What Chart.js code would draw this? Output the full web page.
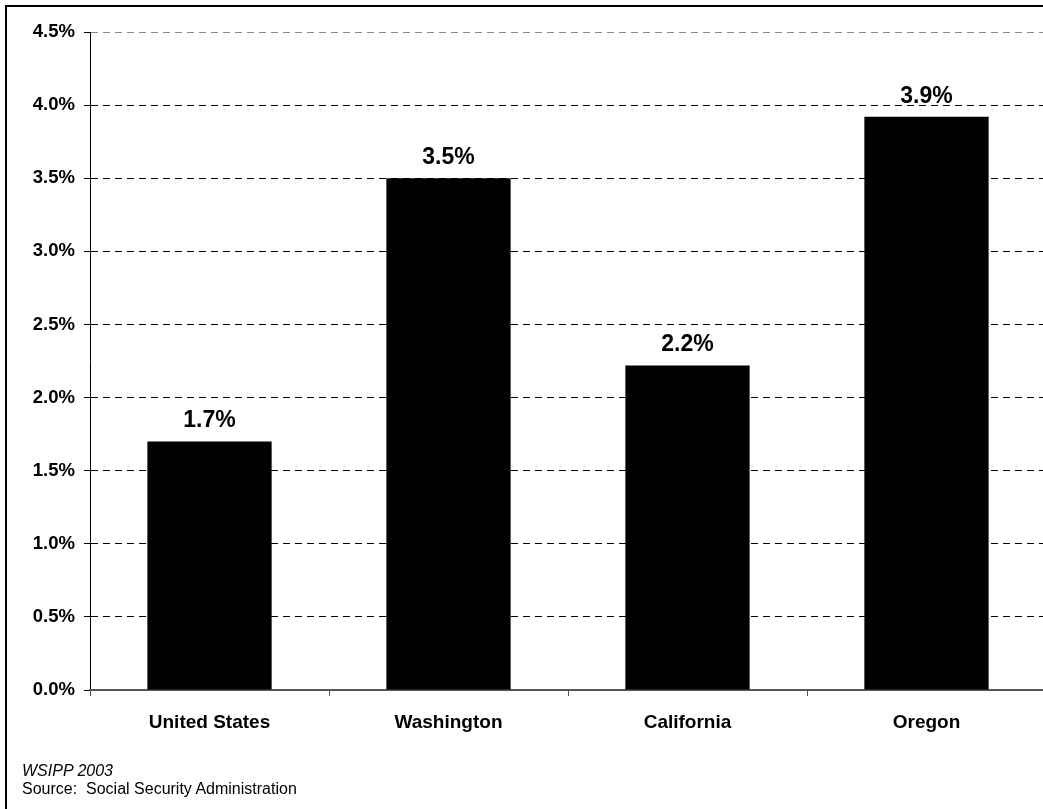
<!DOCTYPE html>
<html>
<head>
<meta charset="utf-8">
<script src="https://cdn.jsdelivr.net/npm/chart.js@4"></script>
<style>
  html, body { margin: 0; padding: 0; background: #fff; overflow: hidden; }
  #wrap { position: relative; width: 1043px; height: 809px; overflow: hidden; }
  #frame { position: absolute; left: 5px; top: 5px; width: 1050px; height: 820px;
           border-left: 2px solid #000; border-top: 2px solid #000; }
  #c { position: absolute; left: 0; top: 0; }
  .note { position: absolute; left: 22px; font-family: "Liberation Sans", Arial, sans-serif;
          font-size: 16px; color: #000; white-space: pre; }
</style>
</head>
<body>
<div id="wrap">
  <div id="frame"></div>
  <canvas id="c" width="1050" height="809" style="width:1050px;height:809px"></canvas>
  <div class="note" style="top:762px;font-style:italic">WSIPP 2003</div>
  <div class="note" style="top:780px">Source:  Social Security Administration</div>
</div>
<script>
const states = ["United States", "Washington", "California", "Oregon"];
const growth = [1.7, 3.5, 2.22, 3.92];
const yMax = 4.5;
const yStep = 0.5;

const fontFam = '"Liberation Sans", Arial, sans-serif';

const valueLabels = {
  id: "valueLabels",
  afterDatasetsDraw(chart) {
    const ctx = chart.ctx;
    const meta = chart.getDatasetMeta(0);
    ctx.save();
    ctx.font = "bold 23px " + fontFam;
    ctx.fillStyle = "#000";
    ctx.textAlign = "center";
    ctx.textBaseline = "alphabetic";
    meta.data.forEach(function(bar, i) {
      ctx.fillText(growth[i].toFixed(1) + "%", bar.x, bar.y - 14);
    });
    ctx.restore();
  }
};

new Chart(document.getElementById("c"), {
  type: "bar",
  data: {
    labels: states,
    datasets: [{
      data: growth,
      backgroundColor: "#000",
      borderWidth: 0,
      barPercentage: 0.52,
      categoryPercentage: 1
    }]
  },
  options: {
    responsive: false,
    animation: false,
    layout: { padding: { top: 32, right: 4, left: 0, bottom: 0 } },
    plugins: { legend: { display: false }, tooltip: { enabled: false } },
    scales: {
      y: {
        min: 0,
        max: yMax,
        ticks: {
          stepSize: yStep,
          padding: 9,
          color: "#000",
          font: { family: fontFam, size: 18.5, weight: "bold" },
          callback: v => v.toFixed(1) + "%"
        },
        grid: {
          color: ctx => ctx.tick && ctx.tick.value === yMax ? "#888" : "#000",
          lineWidth: 1,
          tickLength: 6,
          tickColor: "#000",
          tickBorderDash: []
        },
        border: { display: true, color: "#000", width: 1, dash: [7, 5] },
        afterFit: s => { s.width = 90; }
      },
      x: {
        ticks: {
          padding: 15,
          color: "#000",
          font: { family: fontFam, size: 19, weight: "bold" }
        },
        grid: {
          drawOnChartArea: false,
          drawTicks: true,
          tickLength: 6,
          color: "#555"
        },
        border: { display: true, color: "#555", width: 2 },
        afterFit: s => { s.height = 119; }
      }
    }
  },
  plugins: [valueLabels]
});
</script>
</body>
</html>
